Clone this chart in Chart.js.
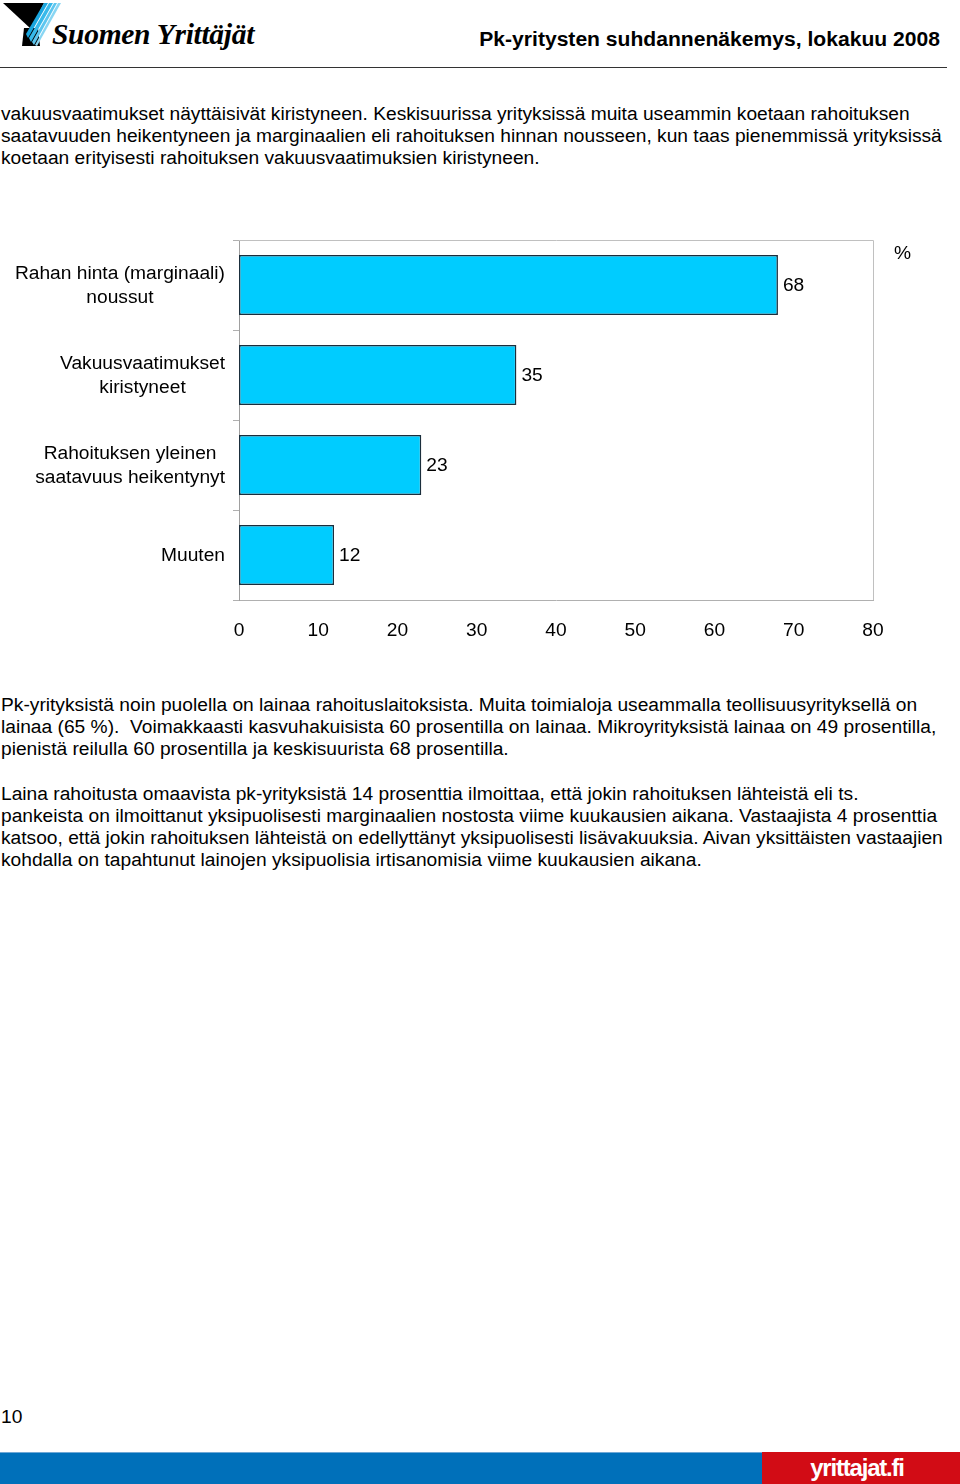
<!DOCTYPE html>
<html>
<head>
<meta charset="utf-8">
<script src="https://cdn.jsdelivr.net/npm/chart.js@4/dist/chart.umd.min.js"></script>
<style>
  body { margin: 0; width: 960px; height: 1484px; position: relative; background: #fff;
         font-family: "Liberation Sans", Arial, sans-serif; color: #000; overflow: hidden; }
  .abs { position: absolute; }
  .txt { font-size: 19.2px; line-height: 22px; left: 1px; white-space: nowrap; }
  #brand { left: 52px; top: 18px; font-family: "Liberation Serif", serif; font-style: italic;
           font-weight: bold; font-size: 29.5px; letter-spacing: -0.3px; }
  #title { right: 20px; top: 27px; font-weight: bold; font-size: 21.1px; }
  #rule { left: 0; top: 67px; width: 947px; height: 1px; background: #333; }
  #chartBox { left: 0; top: 230px; width: 940px; height: 420px; }
  #pct { left: 894px; top: 242px; font-size: 19.2px; }
  #page { left: 1px; top: 1406px; font-size: 19.2px; }
  #barBlue { left: 0; top: 1452px; width: 762px; height: 32px; background: #0070ba; border-top: 1px solid #6fa8d6; }
  #barRed { left: 762px; top: 1452px; width: 198px; height: 33px; background: #d20c15;
            color: #fff; font-family: "Liberation Sans Narrow", "Liberation Sans", sans-serif; font-weight: bold;
            font-size: 24px; letter-spacing: -1.2px; text-align: center; line-height: 31px; text-indent: -8px; }
</style>
</head>
<body>
<svg class="abs" style="left:0;top:0" width="62" height="48">
  <polygon points="3,3 44,3 31,29" fill="#000"/>
  <polygon points="24,28 38,28 40,46 22,46" fill="#000"/>
  <polygon points="44,3 48,3 28,38 26,34" fill="#1aa6df"/>
  <polygon points="49,3 53,3 31,42 29,38" fill="#37b9ea"/>
  <polygon points="54,3 57,3 34,45 32,42" fill="#5cc6ef"/>
  <polygon points="58,3 61,3 37,46 35,45" fill="#89d6f3"/>
</svg>
<div class="abs" id="brand">Suomen Yrittäjät</div>
<div class="abs" id="title">Pk-yritysten suhdannenäkemys, lokakuu 2008</div>
<div class="abs" id="rule"></div>

<div class="abs txt" style="top:103px">vakuusvaatimukset näyttäisivät kiristyneen. Keskisuurissa yrityksissä muita useammin koetaan rahoituksen<br>saatavuuden heikentyneen ja marginaalien eli rahoituksen hinnan nousseen, kun taas pienemmissä yrityksissä<br>koetaan erityisesti rahoituksen vakuusvaatimuksien kiristyneen.</div>

<div class="abs" id="chartBox"><canvas id="chart" width="940" height="420"></canvas></div>
<div class="abs" id="pct">%</div>

<div class="abs txt" style="top:694px">Pk-yrityksistä noin puolella on lainaa rahoituslaitoksista. Muita toimialoja useammalla teollisuusyrityksellä on<br>lainaa (65 %).&nbsp; Voimakkaasti kasvuhakuisista 60 prosentilla on lainaa. Mikroyrityksistä lainaa on 49 prosentilla,<br>pienistä reilulla 60 prosentilla ja keskisuurista 68 prosentilla.</div>

<div class="abs txt" style="top:783px">Laina rahoitusta omaavista pk-yrityksistä 14 prosenttia ilmoittaa, että jokin rahoituksen lähteistä eli ts.<br>pankeista on ilmoittanut yksipuolisesti marginaalien nostosta viime kuukausien aikana. Vastaajista 4 prosenttia<br>katsoo, että jokin rahoituksen lähteistä on edellyttänyt yksipuolisesti lisävakuuksia. Aivan yksittäisten vastaajien<br>kohdalla on tapahtunut lainojen yksipuolisia irtisanomisia viime kuukausien aikana.</div>

<div class="abs" id="page">10</div>
<div class="abs" id="barBlue"></div>
<div class="abs" id="barRed">yrittajat.fi</div>

<script>
const categories = [
  ['Rahan hinta (marginaali)', 'noussut'],
  ['Vakuusvaatimukset', 'kiristyneet'],
  ['Rahoituksen yleinen', 'saatavuus heikentynyt'],
  ['Muuten']
];
const values = [68, 35, 23, 12];
const xTicks = [0, 10, 20, 30, 40, 50, 60, 70, 80];

const FONT = '19.2px "Liberation Sans", Arial, sans-serif';

// kehys, y-akselin tekstit ja arvot
const extras = {
  id: 'extras',
  beforeDatasetsDraw(chart) {
    const { ctx, chartArea: a } = chart;
    ctx.save();
    ctx.strokeStyle = '#c0c0c0';
    ctx.lineWidth = 1;
    ctx.beginPath();
    ctx.moveTo(a.left, a.top + 0.5);
    ctx.lineTo(a.right + 0.5, a.top + 0.5);
    ctx.lineTo(a.right + 0.5, a.bottom);
    ctx.stroke();
    ctx.restore();
  },
  afterDatasetsDraw(chart) {
    const { ctx } = chart;
    const y = chart.scales.y;
    ctx.save();
    ctx.font = FONT;
    ctx.fillStyle = '#000';
    ctx.textBaseline = 'middle';
    // kategoriat: lohko oikealle, rivit keskitetty
    categories.forEach((lines, i) => {
      const cy = y.getPixelForValue(i) + 1;
      const w = Math.max(...lines.map(l => ctx.measureText(l).width));
      const cx = 225 - w / 2;
      ctx.textAlign = 'center';
      lines.forEach((l, j) => {
        ctx.fillText(l, cx, cy + (j - (lines.length - 1) / 2) * 24);
      });
    });
    // arvot palkkien päähän
    ctx.textAlign = 'left';
    chart.getDatasetMeta(0).data.forEach((bar, i) => {
      ctx.fillText(values[i], bar.x + 5, bar.y + 1);
    });
    ctx.restore();
  }
};

new Chart(document.getElementById('chart'), {
  type: 'bar',
  data: {
    labels: categories,
    datasets: [{
      data: values,
      backgroundColor: '#00ccff',
      borderColor: '#1a2e3c',
      borderWidth: 1.5,
      borderSkipped: false,
      categoryPercentage: 1,
      barPercentage: 0.667
    }]
  },
  options: {
    indexAxis: 'y',
    responsive: false,
    animation: false,
    events: [],
    layout: { padding: { top: 10, right: 67, left: 0, bottom: 0 } },
    plugins: { legend: { display: false }, tooltip: { enabled: false } },
    scales: {
      x: {
        min: 0, max: 80,
        afterBuildTicks: s => { s.ticks = xTicks.map(v => ({ value: v })); },
        afterFit: s => { s.height = 50; },
        grid: { display: false },
        border: { display: true, color: '#b0b0b0', width: 1 },
        ticks: { font: { family: '"Liberation Sans", Arial, sans-serif', size: 19.2 }, color: '#000', padding: 11, maxRotation: 0 }
      },
      y: {
        afterFit: s => { s.width = 239; },
        grid: { drawOnChartArea: false, drawTicks: true, tickLength: 6, color: '#b0b0b0', offset: true },
        border: { display: true, color: '#a0a0a0', width: 1 },
        ticks: { display: false }
      }
    }
  },
  plugins: [extras]
});
</script>
</body>
</html>
